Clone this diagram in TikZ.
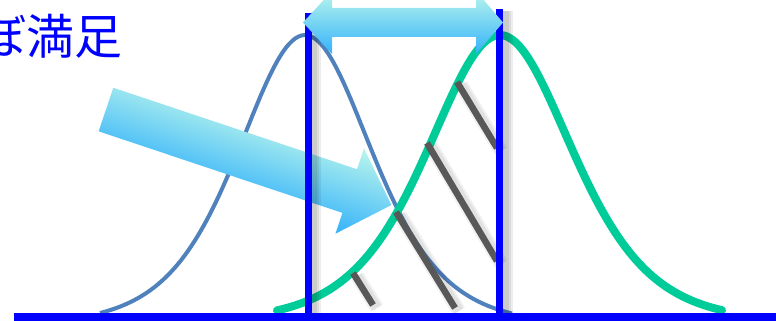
\documentclass[tikz,border=0pt]{standalone}
\usepackage{fontspec}
\newfontfamily\cjk{Noto Sans CJK JP}
\definecolor{bl}{RGB}{0,0,255}
\definecolor{curveblue}{RGB}{79,129,189}
\definecolor{grn}{RGB}{0,204,153}
\definecolor{hatchgray}{RGB}{88,88,88}
\definecolor{alight}{RGB}{186,246,236}
\definecolor{adark}{RGB}{52,178,250}
\tikzset{
  vline/.style={bl, line width=7pt},
  vshadow/.style={black, opacity=0.07},
  hatchline/.style={hatchgray, line width=6.5pt},
  hshadow/.style={black, opacity=0.06},
  bigarrow/.style={top color=alight, bottom color=adark, draw=none},
  label/.style={text=bl, font=\cjk\fontsize{48}{52}\selectfont, inner sep=0pt, anchor=base west}
}
\begin{document}
\begin{tikzpicture}[x=1pt,y=-1pt]
\useasboundingbox (0,0) rectangle (776,321);
\fill[white] (0,0) rectangle (776,321);

% text
\node[label] (txt) at (-70,55) {ほぼ満足};

% blue distribution curve
\draw[curveblue, line width=4pt] plot[domain=100:512, samples=140, smooth]
  (\x, {316-281*((1/(cosh((\x-305)/89.6))^2)-0.03)/0.97});

% big slanted arrow
\begin{scope}[transform canvas={shift={(106,109.5)}, rotate=-18.5}]
  \shade[bigarrow] (0,-23) -- (257,-23) -- (257,-45) -- (301,0) -- (257,45) -- (257,23) -- (0,23) -- cycle;
\end{scope}

% green distribution curve
\draw[grn, line width=8pt, line cap=round] plot[domain=277:722, samples=160, smooth]
  (\x, {316-281*((1/(cosh((\x-500)/97))^2)-0.02)/0.98});

% hatch shadows
\foreach \a/\b/\c/\d in {457/82/497/148, 427/143/497/261, 396/212/455/308, 353/273/373/305}{
  \draw[hshadow, line width=14pt] (\a+4,\b+3) -- (\c+4,\d+3);
  \draw[hshadow, line width=10pt] (\a+4,\b+3) -- (\c+4,\d+3);
}
% hatch lines
\coordinate (h1a) at (457,82);  \coordinate (h1b) at (497,148);
\coordinate (h2a) at (427,143); \coordinate (h2b) at (497,261);
\coordinate (h3a) at (396,212); \coordinate (h3b) at (455,308);
\coordinate (h4a) at (353,273); \coordinate (h4b) at (373,305);
\draw[hatchline] (h1a) -- (h1b);
\draw[hatchline] (h2a) -- (h2b);
\draw[hatchline] (h3a) -- (h3b);
\draw[hatchline] (h4a) -- (h4b);

% vertical line shadows
\foreach \xx/\yy in {308/13, 499.5/9}{
  \foreach \w in {14,10,6}{
    \draw[vshadow, line width=\w pt] (\xx+6,\yy+2) -- (\xx+6,317);
  }
}
% vertical lines
\coordinate (l1t) at (308,13);  \coordinate (l1b) at (308,317);
\coordinate (l2t) at (499.5,9); \coordinate (l2b) at (499.5,317);
\draw[vline] (l1t) -- (l1b);
\draw[vline] (l2t) -- (l2b);

% baseline
\coordinate (bx0) at (14,317); \coordinate (bx1) at (776,317);
\draw[bl, line width=8pt] (bx0) -- (bx1);

% double arrow on top
\shade[bigarrow] (303,22.5) -- (332,-9) -- (332,8) -- (476,8) -- (476,-9) -- (503,22.5)
  -- (476,54) -- (476,37) -- (332,37) -- (332,54) -- cycle;
\end{tikzpicture}
\end{document}
